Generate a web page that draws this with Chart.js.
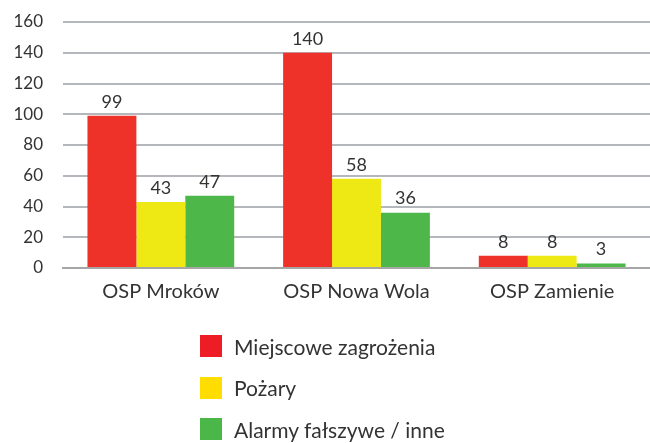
<!DOCTYPE html>
<html><head><meta charset="utf-8">
<script src="https://cdn.jsdelivr.net/npm/chart.js@4"></script>
<style>
html,body{margin:0;padding:0;background:#fff;}
#wrap{position:relative;width:650px;height:443px;overflow:hidden;}
#c{position:absolute;left:0;top:0;}
#legend{position:absolute;left:200px;top:335px;font-family:Lato,"Open Sans",sans-serif;font-size:21px;color:#333;}
.li{display:flex;align-items:center;height:22px;margin-bottom:19.5px;}
.sw{width:22px;height:22px;margin-right:12px;flex:none;}
</style></head><body>
<div id="wrap"><canvas id="c" width="650" height="443"></canvas><div id="legend"></div></div>
<script>
const categories = ["OSP Mroków", "OSP Nowa Wola", "OSP Zamienie"];
const seriesNames = ["Miejscowe zagrożenia", "Pożary", "Alarmy fałszywe / inne"];
const miejscowe = [99, 140, 8];
const pozary = [43, 58, 8];
const alarmy = [47, 36, 3];
const yTicks = [0, 20, 40, 60, 80, 100, 120, 140, 160];

const barColors = ["#ee3129", "#eee815", "#4db74a"];
const legendColors = ["#ee1c25", "#ffdd00", "#4cb749"];
const FONT = 'Lato, "Open Sans", sans-serif';

const valueLabels = {
  id: 'valueLabels',
  afterDatasetsDraw(chart) {
    const ctx = chart.ctx;
    ctx.save();
    ctx.font = '18px ' + FONT;
    ctx.fillStyle = '#333';
    ctx.textAlign = 'center';
    ctx.textBaseline = 'bottom';
    chart.data.datasets.forEach((ds, i) => {
      chart.getDatasetMeta(i).data.forEach((bar, j) => {
        ctx.fillText(String(ds.data[j]), bar.x, bar.y - 5);
      });
    });
    ctx.restore();
  }
};

const chart = new Chart(document.getElementById('c'), {
  type: 'bar',
  data: {
    labels: categories,
    datasets: [
      { label: seriesNames[0], data: miejscowe, backgroundColor: barColors[0] },
      { label: seriesNames[1], data: pozary, backgroundColor: barColors[1] },
      { label: seriesNames[2], data: alarmy, backgroundColor: barColors[2] }
    ]
  },
  options: {
    responsive: false,
    animation: false,
    devicePixelRatio: 1,
    layout: { padding: { top: 22, right: 0, left: 0, bottom: 135 } },
    datasets: { bar: { categoryPercentage: 0.75, barPercentage: 1.0, borderWidth: 0 } },
    plugins: { legend: { display: false }, tooltip: { enabled: false } },
    scales: {
      x: {
        grid: { display: false, drawTicks: false },
        border: { display: true, color: '#a6a6a6', width: 2 },
        ticks: { color: '#333', font: { family: FONT, size: 20 }, padding: 12 },
        afterFit(axis) { axis.height = 40; axis.paddingLeft = 0; axis.paddingRight = 0; }
      },
      y: {
        min: 0, max: 160,
        afterBuildTicks(axis) { axis.ticks = yTicks.map(v => ({ value: v })); },
        grid: { color: '#b4b7bb', lineWidth: 2, drawTicks: false },
        border: { display: false },
        ticks: { color: '#333', font: { family: FONT, size: 17 }, padding: 20 },
        afterFit(axis) { axis.width = 63; axis.paddingTop = 0; axis.paddingBottom = 0; }
      }
    }
  },
  plugins: [valueLabels]
});

const lg = document.getElementById('legend');
seriesNames.forEach((n, i) => {
  const d = document.createElement('div'); d.className = 'li';
  const s = document.createElement('div'); s.className = 'sw'; s.style.background = legendColors[i];
  const t = document.createElement('span'); t.textContent = n;
  d.appendChild(s); d.appendChild(t); lg.appendChild(d);
});
</script>
</body></html>
